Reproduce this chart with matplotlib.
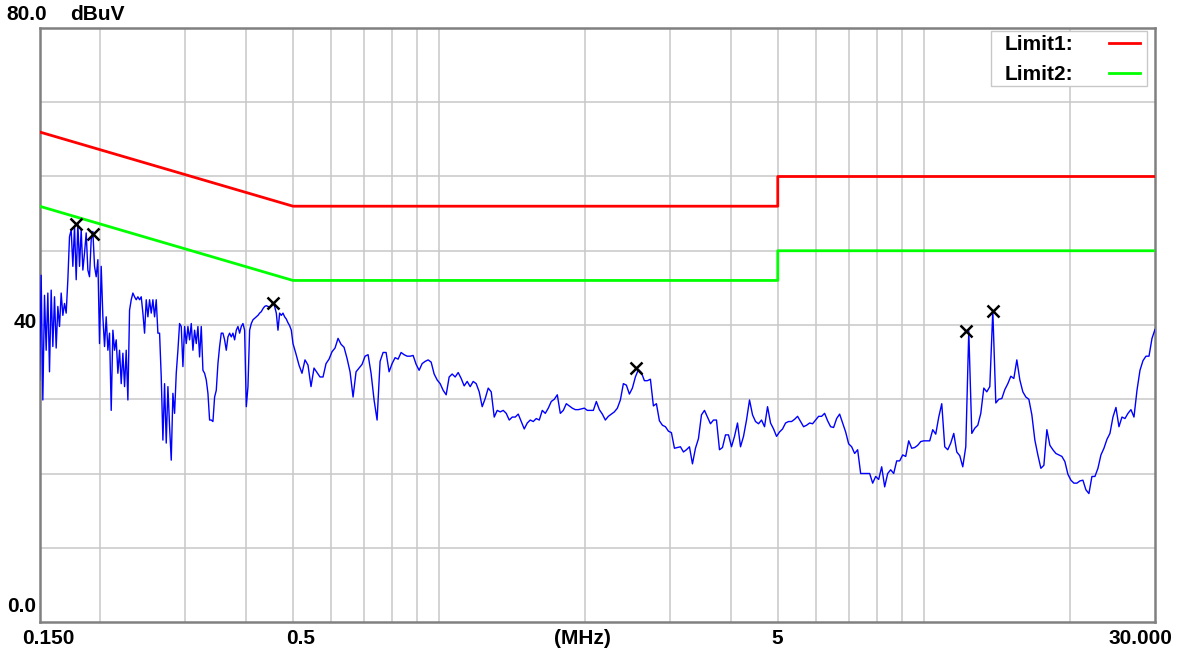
import numpy as np
import matplotlib
matplotlib.use("Agg")
import matplotlib.pyplot as plt
from matplotlib.ticker import FixedLocator, NullLocator, NullFormatter
from matplotlib.patches import Rectangle
from matplotlib.lines import Line2D

plt.rcParams["font.family"] = ["Liberation Sans", "DejaVu Sans"]

# Measured level, 0.15 - 0.5 MHz (dBuV)
level_low = [
    32.6, 46.7, 29.9, 44.0, 36.6, 44.3, 33.7, 44.7, 37.1, 43.8,
    36.9, 42.5, 39.8, 44.3, 41.3, 42.9, 41.6, 46.1, 51.9, 52.8,
    47.9, 53.3, 46.1, 53.7, 47.9, 52.8, 47.4, 49.7, 52.4, 47.4,
    46.5, 51.5, 52.6, 47.9, 46.5, 48.8, 37.5, 47.9, 41.1, 37.1,
    41.1, 36.6, 38.9, 28.5, 39.3, 36.6, 38.0, 33.5, 36.6, 32.1,
    36.2, 31.7, 36.6, 29.9, 42.0, 43.4, 44.3, 43.8, 43.4, 43.8,
    43.4, 43.8, 41.6, 38.9, 43.4, 41.1, 43.4, 41.6, 43.4, 41.1,
    43.4, 38.9, 38.9, 33.0, 24.5, 32.1, 24.1, 31.7, 26.3, 21.8,
    30.8, 28.1, 33.5, 36.6, 40.2, 39.8, 34.4, 39.8, 37.5, 39.8,
    38.0, 40.2, 36.6, 39.3, 37.5, 39.8, 35.7, 39.8, 33.9, 33.5,
    32.6, 30.8, 27.2, 27.2, 27.0, 30.3, 31.2, 34.8, 37.1, 38.9,
    38.9, 38.0, 36.6, 38.4, 38.9, 38.4, 38.9, 38.0, 39.3, 39.8,
    38.9, 39.8, 40.2, 39.3, 29.0, 31.7, 39.3, 40.2, 40.7, 40.9,
    41.1, 41.3, 41.6, 41.8, 42.2, 42.5, 42.6,
    42.5, 42.4, 42.6, 43.0, 42.5, 41.6, 39.3, 41.6, 41.3, 41.6,
    41.1, 40.8, 40.3, 39.9, 39.3, 37.5,
]

# Measured level, 0.5 - 30 MHz (dBuV)
level_high = [
    36.1, 34.6, 33.5, 35.3, 34.6, 31.7, 34.2, 33.6, 33.0, 33.0,
    34.8, 35.4, 36.4, 36.9, 38.2, 37.4, 37.0, 35.5, 33.7, 30.3,
    33.7, 34.2, 34.7, 35.8, 36.0, 33.5, 29.9, 27.2, 35.1, 36.3,
    36.3, 33.7, 34.8, 35.6, 35.4, 36.3, 36.0, 35.8, 35.8, 35.9,
    34.7, 33.9, 34.8, 35.1, 35.3, 35.0, 33.4, 32.6, 32.1, 31.2,
    30.6, 33.0, 33.4, 33.0, 33.6, 32.8, 31.8, 32.4, 31.7, 32.4,
    32.1, 31.0, 29.0, 30.1, 31.5,
    31.0, 27.6, 28.5, 28.3, 28.5, 28.1, 27.2, 27.6, 27.6, 28.0,
    27.0, 26.0, 26.8, 27.2, 27.0, 27.4, 27.2, 28.5, 28.1, 28.8,
    29.7, 30.0, 30.6, 28.1, 28.5, 29.4, 29.1, 28.8, 28.6, 28.6,
    28.7, 28.8, 28.5, 28.5, 28.5, 29.7, 28.6, 28.0, 27.2, 27.7,
    28.0, 28.3, 28.8, 29.9, 32.1, 31.9, 30.7, 31.5, 33.0, 34.0,
    33.6, 32.5, 32.5, 32.7, 29.1, 29.4, 27.1, 26.5, 26.3, 25.7,
    25.5, 23.4, 23.5, 23.6, 22.9, 23.2, 23.6, 21.3, 23.4, 24.7,
    27.9, 28.5, 27.6, 26.7,
    27.2, 27.2, 23.2, 23.5, 25.2, 25.2, 23.6, 25.0, 26.8, 23.6,
    25.0, 27.2, 29.9, 27.9, 27.0, 26.7, 27.2, 26.3, 29.0, 26.8,
    26.0, 25.0, 25.6, 26.0, 26.8, 27.0, 27.0, 27.3, 27.7, 27.0,
    26.3, 26.5, 26.8, 26.7, 27.2, 27.7, 27.7, 28.1, 27.1, 26.3,
    26.2, 27.4, 28.0, 26.8, 25.6, 24.0, 23.6, 22.7, 23.2, 20.0,
    20.0, 20.0, 20.0, 18.7, 19.6, 19.2, 20.9, 18.2, 20.0, 20.5,
    20.0, 21.7, 21.7, 22.5, 22.3, 24.4, 23.4, 23.5, 23.8, 24.3,
    24.4, 24.4, 24.4,
    25.9, 25.3, 27.6, 29.4, 23.6, 23.2, 24.1, 25.4, 22.9, 22.4,
    20.9, 23.6, 39.2, 25.4, 26.1, 26.5, 28.1, 31.5, 31.0, 31.7,
    41.9, 29.5, 30.0, 30.1, 31.3, 32.1, 33.1, 32.8, 35.3, 32.6,
    31.0, 30.3, 30.0, 27.9, 24.5, 22.5, 20.7, 21.1, 25.9, 23.8,
    23.2, 22.7, 22.5, 22.3, 21.6, 19.9, 19.1, 18.7, 18.7, 19.0,
    19.1, 17.8, 17.3, 19.6, 19.6, 20.7, 22.5, 23.4, 24.6, 25.4,
    27.6, 28.9, 26.3, 27.6, 27.4, 28.1, 28.6, 27.6, 31.2, 33.9,
    35.2, 35.8, 35.8, 38.2, 39.4,
]

# Limit lines (MHz, dBuV)
limit_freq = [0.15, 0.5, 5.0, 5.0, 30.0]
limit1_level = [66.0, 56.0, 56.0, 60.0, 60.0]
limit2_level = [56.0, 46.0, 46.0, 50.0, 50.0]

# Peak markers (MHz, dBuV)
peak_freq = [0.178, 0.1935, 0.455, 2.55, 12.2, 13.9]
peak_level = [53.6, 52.3, 43.0, 34.2, 39.2, 41.9]

# Axis labelling
x_tick_values = [0.15, 0.5, 5.0, 30.0]
x_tick_labels = ["0.150", "0.5", "5", "30.000"]
y_tick_values = [40.0, 0.0]
y_tick_labels = ["40", "0.0"]
grid_freqs = [0.2, 0.3, 0.4, 0.5, 0.6, 0.7, 0.8, 0.9, 1, 2, 3, 4, 5, 6, 7, 8, 9, 10, 20]
grid_levels = [10, 20, 30, 40, 50, 60, 70]

# Sweep frequency grids
freq_low = np.geomspace(0.15, 0.5, len(level_low))
freq_high = np.geomspace(0.5, 30.0, len(level_high) + 1)[1:]
freq = np.concatenate([freq_low, freq_high])
level = np.concatenate([level_low, level_high])

W, H = 1179, 654
fig = plt.figure(figsize=(W / 100, H / 100), dpi=100)
L, R, T, B = 39.5, 1155, 28, 622
ax = fig.add_axes([L / W, 1 - B / H, (R - L) / W, (B - T) / H])

ax.set_xscale("log")
ax.set_xlim(0.15, 30.0)
ax.set_ylim(0, 80)

ax.xaxis.set_major_locator(FixedLocator(grid_freqs))
ax.xaxis.set_minor_locator(NullLocator())
ax.xaxis.set_major_formatter(NullFormatter())
ax.xaxis.set_minor_formatter(NullFormatter())
ax.yaxis.set_major_locator(FixedLocator(grid_levels))
ax.yaxis.set_major_formatter(NullFormatter())
ax.tick_params(length=0)
ax.grid(True, color="#c8c8c8", linewidth=1.1)
ax.set_axisbelow(True)

for sp in ax.spines.values():
    sp.set_color("#808080")
    sp.set_linewidth(1.8)

ax.plot(freq, level, color="#0000ff", linewidth=1.0, zorder=3)
l1, = ax.plot(limit_freq, limit1_level, color="#ff0000", linewidth=2.0, zorder=4, label="Limit1:")
l2, = ax.plot(limit_freq, limit2_level, color="#00ff00", linewidth=2.0, zorder=4, label="Limit2:")
ax.plot(peak_freq, peak_level, linestyle="none", marker="x", markersize=9,
        markeredgewidth=1.8, color="black", zorder=5)

FS = 15
font = dict(fontsize=FS, fontweight="bold", color="black")

# x labels
xtr = ax.get_xaxis_transform()
x_offsets = {"0.150": (9, "center"), "0.5": (8, "center"), "5": (-1, "center"), "30.000": (17, "right")}
for v, lab in zip(x_tick_values, x_tick_labels):
    dx, ha = x_offsets[lab]
    ax.annotate(lab, xy=(v, 0), xycoords=xtr, xytext=(dx, -17), textcoords="offset pixels",
                ha=ha, va="center", annotation_clip=False, **font)
ax.annotate("(MHz)", xy=(0.4863, 0), xycoords="axes fraction", xytext=(0, -17),
            textcoords="offset pixels", ha="center", va="center", annotation_clip=False, **font)

# y labels
ytr = ax.get_yaxis_transform()
y_offsets = {"40": 3, "0.0": 15}
for v, lab in zip(y_tick_values, y_tick_labels):
    ax.annotate(lab, xy=(0, v), xycoords=ytr, xytext=(-3, y_offsets[lab]), textcoords="offset pixels",
                ha="right", va="center", annotation_clip=False, **font)
ax.annotate("80.0", xy=(0, 80), xycoords=ytr, xytext=(-33.5, 14), textcoords="offset pixels",
            ha="left", va="center", annotation_clip=False, **font)
ax.annotate("dBuV", xy=(0, 80), xycoords=ytr, xytext=(30.5, 14), textcoords="offset pixels",
            ha="left", va="center", annotation_clip=False, **font)

# legend box
def afx(px):
    return (px - L) / (R - L)

def afy(py):
    return (B - py) / (B - T)

ax.add_patch(Rectangle((afx(991), afy(86)), afx(1147) - afx(991), afy(31) - afy(86),
                       transform=ax.transAxes, facecolor="white", edgecolor="#c8c8c8",
                       linewidth=1.0, zorder=6))
for line, py in [(l1, 43), (l2, 73)]:
    ax.text(afx(1005), afy(py + 1), line.get_label(), transform=ax.transAxes,
            ha="left", va="center", zorder=7, fontsize=FS, fontweight="bold")
    ax.add_line(Line2D([afx(1109), afx(1140)], [afy(py), afy(py)], transform=ax.transAxes,
                       color=line.get_color(), linewidth=2.0, zorder=7))

fig.savefig("out.png", dpi=100)
